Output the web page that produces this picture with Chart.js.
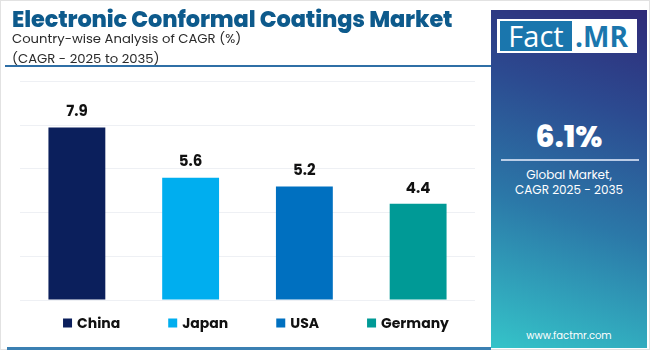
<!DOCTYPE html>
<html><head><meta charset="utf-8">
<script src="https://cdn.jsdelivr.net/npm/chart.js@4"></script>
<style>
html,body{margin:0;padding:0;background:#fff;}
#wrap{position:relative;width:650px;height:350px;overflow:hidden;font-family:Poppins,Inter,"Open Sans",sans-serif;}
#frame{position:absolute;left:0;top:0;width:648px;height:348px;border:1px solid #e2e2e2;}
#c{position:absolute;left:0;top:0;}
.t{position:absolute;white-space:nowrap;}
#title{left:12px;top:2px;font-size:22.4px;font-weight:800;color:#0d5a8c;letter-spacing:-0.1px;}
#sub1{left:12px;top:29px;font-size:13.2px;color:#2b2b2b;}
#sub2{left:12px;top:49px;font-size:13.2px;color:#2b2b2b;}
#line1{position:absolute;left:5px;top:65px;width:486px;height:2px;background:#2f6fa6;}
#line2{position:absolute;left:7px;top:347px;width:484px;height:3px;background:#3b80b2;}
#panel{position:absolute;left:491px;top:10px;width:156px;height:338px;
 background:linear-gradient(18deg,#35c4c9 0%,#2b78a8 40%,#2c4a90 72%,#2f2a78 100%);}
#logo{position:absolute;left:6px;top:9px;width:140px;height:34px;background:#fff;}
#fact{position:absolute;left:3px;top:2px;width:72px;height:30px;background:#1a76ad;color:#fff;font-family:"Open Sans",sans-serif;font-size:29px;line-height:30px;text-align:center;}
#mr{position:absolute;left:78px;top:2px;height:30px;color:#1a76ad;font-family:"Open Sans",sans-serif;font-weight:700;font-size:28px;line-height:30px;}
#big{position:absolute;left:0;width:156px;top:104px;text-align:center;color:#fff;font-size:30px;font-weight:800;}
#sep{position:absolute;left:10px;top:149px;width:138px;height:2px;background:rgba(235,240,255,0.75);}
#gm{position:absolute;left:0;width:156px;top:157px;text-align:center;color:#fff;font-size:12px;line-height:15px;}
#web{position:absolute;left:0;width:156px;top:318px;text-align:center;color:#fff;font-size:10px;}
</style></head>
<body><div id="wrap">
<div id="frame"></div>
<canvas id="c" width="650" height="350"></canvas>
<div class="t" id="title">Electronic Conformal Coatings Market</div>
<div class="t" id="sub1">Country-wise Analysis of CAGR (%)</div>
<div class="t" id="sub2">(CAGR - 2025 to 2035)</div>
<div id="line1"></div>
<div id="line2"></div>
<div id="panel">
 <div id="logo"><div id="fact">Fact</div><div id="mr">.MR</div></div>
 <div id="big">6.1%</div>
 <div id="sep"></div>
 <div id="gm">Global Market,<br>CAGR 2025 - 2035</div>
 <div id="web">www.factmr.com</div>
</div>
</div>
<script>
const categories = ["China", "Japan", "USA", "Germany"];
const cagrValues = [7.9, 5.6, 5.2, 4.4];
const barColors = ["#0b1f5c", "#00aeef", "#0070c0", "#009a96"];
const yTicks = [0, 2, 4, 6, 8, 10];

const FONT = 'Poppins, Inter, "Open Sans", sans-serif';

const valueLabels = {
  id: 'valueLabels',
  afterDatasetsDraw(chart) {
    const ctx = chart.ctx;
    const meta = chart.getDatasetMeta(0);
    ctx.save();
    ctx.font = '700 15px ' + FONT;
    ctx.fillStyle = '#111';
    ctx.textAlign = 'center';
    ctx.textBaseline = 'middle';
    meta.data.forEach((bar, i) => {
      ctx.fillText(chart.data.datasets[0].data[i].toFixed(1), bar.x, bar.y - 15);
    });
    ctx.restore();
  }
};

const customLegend = {
  id: 'customLegend',
  afterDraw(chart) {
    const ctx = chart.ctx;
    ctx.save();
    ctx.font = '700 14px ' + FONT;
    ctx.textBaseline = 'middle';
    const box = 9, gapBox = 5, gapItem = 48;
    const widths = chart.data.labels.map(l => box + gapBox + ctx.measureText(l).width);
    const total = widths.reduce((a, b) => a + b, 0) + gapItem * (widths.length - 1);
    let x = 256 - total / 2;
    const y = 323;
    chart.data.labels.forEach((l, i) => {
      ctx.fillStyle = chart.data.datasets[0].backgroundColor[i];
      ctx.fillRect(x, y - box / 2, box, box);
      ctx.fillStyle = '#111';
      ctx.fillText(l, x + box + gapBox, y + 1);
      x += widths[i] + gapItem;
    });
    ctx.restore();
  }
};

new Chart(document.getElementById('c'), {
  type: 'bar',
  data: {
    labels: categories,
    datasets: [{
      data: cagrValues,
      backgroundColor: barColors,
      borderWidth: 0,
      barPercentage: 0.5,
      categoryPercentage: 1.0
    }]
  },
  options: {
    responsive: false,
    animation: false,
    layout: { padding: { left: 20, right: 175, top: 81.5, bottom: 50 } },
    plugins: { legend: { display: false }, tooltip: { enabled: false } },
    scales: {
      x: { display: false },
      y: {
        min: yTicks[0], max: yTicks[yTicks.length - 1],
        afterBuildTicks: s => { s.ticks = yTicks.map(v => ({ value: v })); },
        ticks: { display: false },
        grid: { color: '#eef0f4', lineWidth: 1, drawTicks: false },
        border: { display: false }
      }
    }
  },
  plugins: [valueLabels, customLegend]
});
</script>
</body></html>
